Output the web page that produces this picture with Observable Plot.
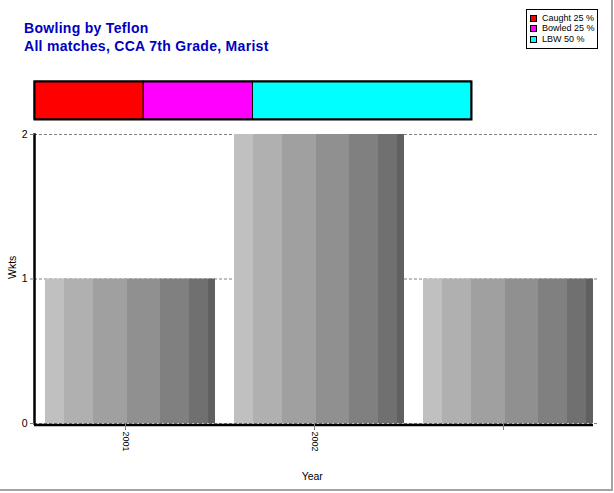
<!DOCTYPE html>
<html><head><meta charset="utf-8">
<script src="https://cdn.jsdelivr.net/npm/d3@7"></script>
<script src="https://cdn.jsdelivr.net/npm/@observablehq/plot@0.6"></script>
<style>
html,body{margin:0;padding:0;background:#fff;}
#wrap{position:relative;width:614px;height:493px;overflow:hidden;font-family:Arial,"Liberation Sans",sans-serif;background:#fff;}
#frameline{position:absolute;left:0;top:0;width:611px;height:489px;border-right:2px solid #a4a49c;border-bottom:2px solid #a4a49c;}
#title{position:absolute;left:24px;top:19px;color:#0000c0;font-weight:bold;font-size:14px;line-height:18px;letter-spacing:0.3px;white-space:nowrap;}
#legend{position:absolute;left:526px;top:9px;width:70px;height:38px;border:1px solid #000;background:#fff;}
.lrow{position:absolute;left:3px;height:10px;font-size:9px;line-height:10px;white-space:nowrap;}
.lsw{position:absolute;left:0;top:2px;width:5px;height:5px;border:1px solid #000;}
.ltx{position:absolute;left:12px;top:0;}
#main,#strip{position:absolute;left:0;}
#main{top:0;}
#strip{top:79px;}
</style></head><body>
<div id="wrap">
  <div id="frameline"></div>
  <div id="main"></div>
  <div id="strip"></div>
  <div id="title"></div>
  <div id="legend"></div>
</div>
<script>
const title = "Bowling by Teflon";
const subtitle = "All matches, CCA 7th Grade, Marist";
const years = ["2001", "2002", "2003"];
const yearLabels = ["2001", "2002", ""];
const wickets = [1, 2, 1];
const yTicks = [0, 1, 2];
const dismissals = ["Caught", "Bowled", "LBW"];
const dismissalPct = [25, 25, 50];
const dismissalColors = ["#ff0000", "#ff00ff", "#00ffff"];

document.getElementById("title").innerHTML = title + "<br>" + subtitle;

// legend
const leg = document.getElementById("legend");
dismissals.forEach((d, i) => {
  const row = document.createElement("div");
  row.className = "lrow";
  row.style.top = (3 + i * 10.3) + "px";
  const sw = document.createElement("div");
  sw.className = "lsw";
  sw.style.background = dismissalColors[i];
  const tx = document.createElement("div");
  tx.className = "ltx";
  tx.textContent = `${d} ${dismissalPct[i]} %`;
  row.appendChild(sw); row.appendChild(tx);
  leg.appendChild(row);
});

// gradient for bars (vertical strips)
const stripStops = [
  [0, "#c0c0c0"], [0.113, "#b0b0b0"], [0.282, "#a0a0a0"], [0.480, "#909090"],
  [0.679, "#808080"], [0.848, "#707070"], [0.957, "#606060"], [1, "#606060"]
];
function gradientDefs() {
  const ns = "http://www.w3.org/2000/svg";
  const defs = document.createElementNS(ns, "defs");
  const lg = document.createElementNS(ns, "linearGradient");
  lg.setAttribute("id", "barStrips");
  lg.setAttribute("x1", "0"); lg.setAttribute("x2", "1");
  lg.setAttribute("y1", "0"); lg.setAttribute("y2", "0");
  for (let i = 0; i < stripStops.length - 1; i++) {
    const [o0, c] = stripStops[i];
    const o1 = stripStops[i + 1][0];
    for (const o of [o0, o1]) {
      const s = document.createElementNS(ns, "stop");
      s.setAttribute("offset", o);
      s.setAttribute("stop-color", c);
      lg.appendChild(s);
    }
  }
  defs.appendChild(lg);
  return defs;
}

const barData = years.map((y, i) => ({year: y, wkts: wickets[i]}));

const main = Plot.plot({
  width: 614, height: 493,
  marginTop: 134, marginBottom: 70, marginLeft: 34, marginRight: 10.5,
  style: {fontFamily: "Arial, 'Liberation Sans', sans-serif", background: "transparent", overflow: "visible"},
  x: {domain: years, paddingInner: 0.1, paddingOuter: 0.05, axis: null},
  y: {domain: [0, 2], axis: null},
  marks: [
    gradientDefs,
    Plot.ruleY(yTicks, {stroke: "#808080", strokeWidth: 1, strokeDasharray: "3,2", insetRight: 6}),
    Plot.barY(barData, {x: "year", y: "wkts", fill: "url(#barStrips)"}),
    Plot.ruleY([0], {stroke: "#000", strokeWidth: 2.5, dy: 1.5, insetRight: 10.5}),
    Plot.frame({anchor: "left", stroke: "#000", strokeWidth: 2.5}),
    Plot.axisY(yTicks, {anchor: "left", tickSize: 4, tickPadding: 3, stroke: "#808080", fill: "#000", fontSize: 10.5, label: null, tickFormat: d3.format("d")}),
    Plot.axisX(years, {anchor: "bottom", tickSize: 7, tickPadding: 1, tickRotate: 90, stroke: "#808080", fill: "#000", fontSize: 9, dx: -5, label: null, tickFormat: d => yearLabels[years.indexOf(d)]}),
    Plot.text(["Wkts"], {frameAnchor: "left", dx: -22, rotate: -90, fontSize: 10.5, fill: "#000"}),
    Plot.text(["Year"], {frameAnchor: "bottom", dx: -7, dy: 56, fontSize: 10.5, fill: "#000"})
  ]
});
document.getElementById("main").appendChild(main);

const stripData = dismissals.map((d, i) => ({name: d, pct: dismissalPct[i]}));
const strip = Plot.plot({
  width: 614, height: 42,
  marginTop: 2, marginBottom: 2, marginLeft: 34, marginRight: 143,
  style: {background: "transparent", overflow: "visible"},
  x: {domain: [0, 100], axis: null},
  color: {domain: dismissals, range: dismissalColors},
  marks: [
    Plot.barX(stripData, Plot.stackX({x: "pct", fill: "name", order: null, stroke: "#000", strokeWidth: 1})),
    Plot.frame({stroke: "#000", strokeWidth: 2})
  ]
});
document.getElementById("strip").appendChild(strip);
</script>
</body></html>
